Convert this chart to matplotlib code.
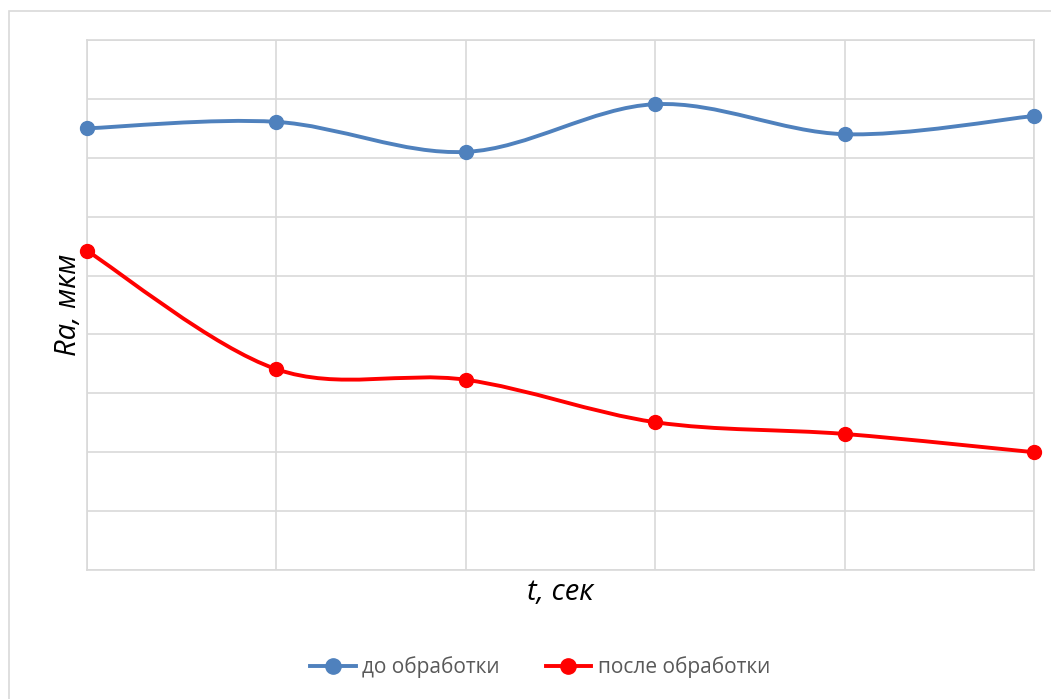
import matplotlib.pyplot as plt
from matplotlib.path import Path
from matplotlib.patches import PathPatch, Rectangle
from matplotlib.lines import Line2D

# data (no tick labels shown; y in grid units)
t_points = [0, 1, 2, 3, 4, 5]
ra_before = [7.50, 7.61, 7.10, 7.91, 7.40, 7.71]
ra_after = [5.42, 3.41, 3.23, 2.51, 2.31, 2.00]
series_names = ['до обработки', 'после обработки']
series_colors = ['#4f81bd', '#ff0000']

plt.rcParams['font.family'] = ['Open Sans', 'DejaVu Sans']


def smooth_path(xs, ys):
    # Excel-style smoothed line: Catmull-Rom as cubic Bezier segments
    pts = list(zip(xs, ys))
    verts = [pts[0]]
    codes = [Path.MOVETO]
    n = len(pts)
    for i in range(n - 1):
        p0 = pts[i - 1] if i > 0 else pts[i]
        p1 = pts[i]
        p2 = pts[i + 1]
        p3 = pts[i + 2] if i + 2 < n else pts[i + 1]
        c1 = (p1[0] + (p2[0] - p0[0]) / 6, p1[1] + (p2[1] - p0[1]) / 6)
        c2 = (p2[0] - (p3[0] - p1[0]) / 6, p2[1] - (p3[1] - p1[1]) / 6)
        verts += [c1, c2, p2]
        codes += [Path.CURVE4] * 3
    return Path(verts, codes)


fig = plt.figure(figsize=(10.51, 6.99), dpi=100)
ax = fig.add_axes([87 / 1051, 1 - 570 / 699, (1034 - 87) / 1051, (570 - 40) / 699])

# outer chart border
fig.patches.append(Rectangle((9 / 1051, -0.01), 1.0, 1 - 11 / 699 + 0.01,
                             transform=fig.transFigure, fill=False,
                             edgecolor='#d9d9d9', linewidth=1.2))

for ys, color in zip([ra_before, ra_after], series_colors):
    ax.add_patch(PathPatch(smooth_path(t_points, ys), fill=False,
                           edgecolor=color, linewidth=2.8, zorder=3))
    ax.plot(t_points, ys, linestyle='none', marker='o', markersize=10,
            color=color, zorder=4, clip_on=False)

ax.set_xlim(0, 5)
ax.set_ylim(0, 9)
ax.set_xticks(t_points)
ax.set_yticks(range(10))
ax.grid(True, color='#d9d9d9', linewidth=1.2)
ax.set_axisbelow(True)
ax.tick_params(length=0, labelleft=False, labelbottom=False)
for s in ax.spines.values():
    s.set_color('#d9d9d9')
    s.set_linewidth(1.2)

ax.set_xlabel('t, сек', fontsize=21, style='italic', labelpad=6)
ax.set_ylabel('Ra, мкм', fontsize=21, style='italic', labelpad=3)

handles = [Line2D([], [], color=c, linewidth=2.8, marker='o', markersize=11)
           for c in series_colors]
fig.legend(handles, series_names, loc='center', bbox_to_anchor=(540 / 1051, 1 - 667 / 699),
           ncol=2, frameon=False, fontsize=15, labelcolor='#595959',
           handlelength=2.2, columnspacing=2.2, handletextpad=0.3)

fig.savefig('out.png', dpi=100)
